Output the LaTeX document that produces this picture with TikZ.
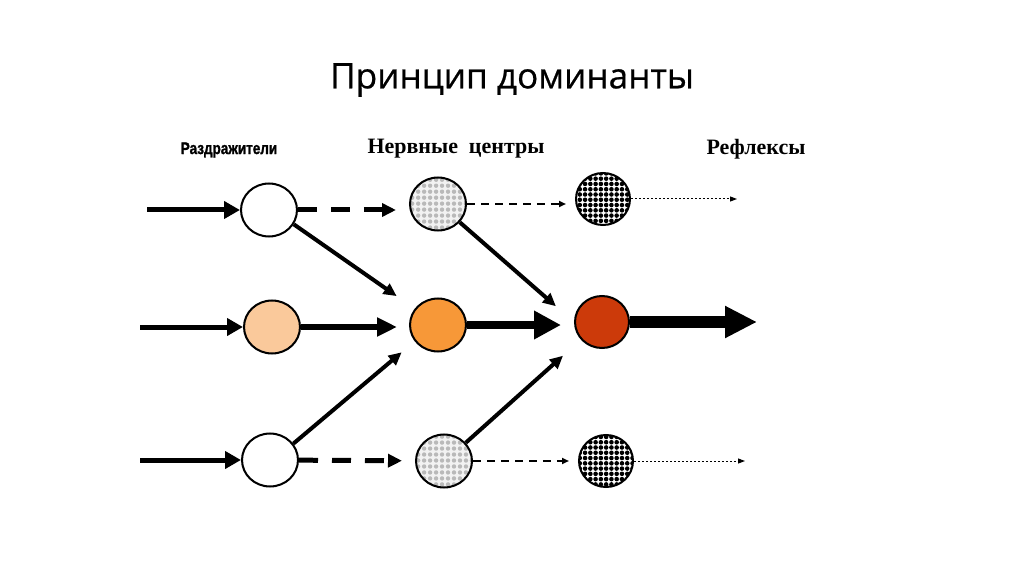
\documentclass[tikz,border=0pt]{standalone}
\usepackage{fontspec}
\setmainfont{Liberation Serif}
\newfontfamily\headfont[FakeBold=0.6]{Open Sans}
\newfontfamily\narrowfont[FakeStretch=0.8,FakeBold=1.2]{Liberation Sans}
\usetikzlibrary{arrows.meta,patterns,shapes.geometric}
\definecolor{peach}{RGB}{250,201,155}
\definecolor{tangerine}{RGB}{247,152,56}
\definecolor{rust}{RGB}{204,58,10}
\definecolor{ink}{RGB}{0,0,0}
% dot fills of the nerve centres
\pgfdeclarepatternformonly{finedots}{\pgfqpoint{-1.5pt}{-1.5pt}}{\pgfqpoint{1.5pt}{1.5pt}}{\pgfqpoint{3pt}{3pt}}{%
  \pgfpathcircle{\pgfqpoint{0pt}{0pt}}{1.3pt}\pgfusepath{fill}}
\pgfdeclarepatternformonly{softdots}{\pgfqpoint{-1.5pt}{-1.5pt}}{\pgfqpoint{1.5pt}{1.5pt}}{\pgfqpoint{3.4pt}{3.4pt}}{%
  \pgfpathcircle{\pgfqpoint{0pt}{0pt}}{1.25pt}\pgfusepath{fill}}
\tikzset{
  cell/.style={ellipse,draw=ink,line width=1.15pt,minimum width=1.12cm,minimum height=1.06cm,
    inner sep=0pt,fill=#1},
  cell/.default=white,
  grey cell/.style={ellipse,draw=ink,line width=1.15pt,minimum width=1.12cm,minimum height=1.06cm,
    inner sep=0pt,preaction={fill=gray!10},pattern=softdots,pattern color=gray!55},
  dark cell/.style={ellipse,draw=ink,line width=1.15pt,minimum width=1.08cm,minimum height=1.04cm,
    inner sep=0pt,preaction={fill=white},pattern=finedots,pattern color=ink},
  feed/.style={draw=ink,line width=1mm,-{Triangle[length=3.2mm,width=3.4mm]}},
  link/.style={draw=ink,line width=0.8mm,-{Triangle[length=2.6mm,width=2.4mm]}},
  push/.style={draw=ink,line width=1.2mm,-{Triangle[length=4mm,width=3.6mm]}},
  surge/.style={draw=ink,line width=1.7mm,-{Triangle[length=5.4mm,width=5.4mm]}},
  blast/.style={draw=ink,line width=2.6mm,-{Triangle[length=6.4mm,width=6mm]}},
  weak/.style={draw=ink,line width=1mm,dash pattern=on 3.8mm off 2.8mm,
    -{Triangle[length=2.8mm,width=2.6mm]}},
  faint/.style={draw=ink,line width=0.4mm,dash pattern=on 1.6mm off 1.2mm,
    -{Triangle[length=1.4mm,width=1.2mm]}},
  trace/.style={draw=ink,line width=0.2mm,dash pattern=on 0.4mm off 0.4mm,
    -{Triangle[length=1.4mm,width=1mm]}},
  tag/.style={text=ink,inner sep=0pt},
}
\begin{document}
\begin{tikzpicture}[x=0.02cm,y=-0.02cm]
  \fill[white] (0,0) rectangle (1024,574);
  \useasboundingbox (0,0) rectangle (1024,574);

  % headings
  \node[tag,font=\headfont\fontsize{20}{24}\selectfont] (title) at (512,80) {Принцип доминанты};
  \node[tag,font=\narrowfont\bfseries\fontsize{9.6}{11}\selectfont] (stim) at (229,150) {Раздражители};
  \node[tag,font=\bfseries\fontsize{12.5}{14}\selectfont] (centres) at (456,149) {Нервные\ \ центры};
  \node[tag,font=\bfseries\fontsize{12.5}{14}\selectfont] (refl) at (756,149) {Рефлексы};

  % receptors, nerve centres, reflex centres
  \node[cell] (r1t) at (269,210) {};
  \node[cell=peach] (r1m) at (272,327) {};
  \node[cell] (r1b) at (270,460) {};
  \node[grey cell] (c2t) at (438,204) {};
  \node[cell=tangerine] (c2m) at (438,325) {};
  \node[grey cell] (c2b) at (444,461) {};
  \node[dark cell] (c3t) at (603,199) {};
  \node[cell=rust,minimum width=1.08cm,minimum height=1.04cm] (c3m) at (602,322) {};
  \node[dark cell] (c3b) at (606,461) {};

  % stimuli
  \foreach \n/\x/\y in {t/147/210,m/140/327,b/140/460}{
    \coordinate (in\n) at (\x,\y);
    \draw[feed] (in\n) -- (r1\n);
  }
  \coordinate (outt) at (737,199);
  \coordinate (outm) at (757,322);
  \coordinate (outb) at (745,461);

  % side paths
  \draw[weak,shorten >=0.26cm] (r1t) -- (r1t -| c2t.west);
  \draw[weak,shorten >=0.26cm] (r1b) -- (c2b);
  \draw[faint,shorten >=0.18cm] (c2t) -- (c2t -| c3t.west);
  \draw[faint,shorten >=0.18cm] (c2b) -- (c3b);
  \draw[trace] (c3t) -- (outt);
  \draw[trace] (c3b) -- (outb);

  % convergence on the dominant
  \draw[link,shorten >=0.44cm] (r1t.-30) -- (c2m.145);
  \draw[link,shorten >=0.34cm] (r1b.35) -- (c2m.-145);
  \draw[link,shorten >=0.48cm] (c2t.-40) -- (c3m.west);
  \draw[link,shorten >=0.48cm] (c2b.40) -- (c3m.-140);
  \draw[push,shorten >=0.24cm] (r1m) -- (r1m -| c2m.west);
  \draw[surge,shorten >=0.26cm] (c2m) -- (c2m -| c3m.west);
  \draw[blast] (c3m) -- (outm);
\end{tikzpicture}
\end{document}
